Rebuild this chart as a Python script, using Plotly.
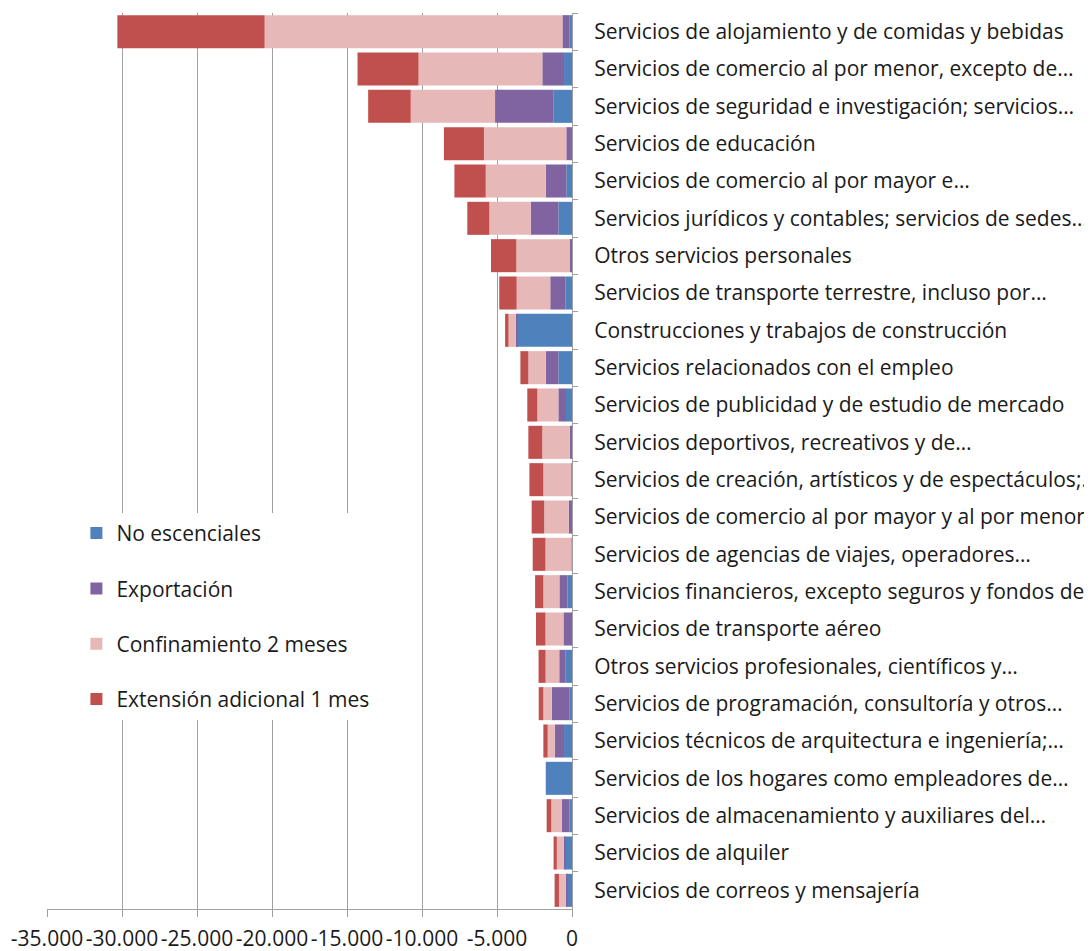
"""Stacked horizontal bars: estimated job losses by service sector."""

import plotly.graph_objects as go

sectores = [
    "Servicios de alojamiento y de comidas y bebidas",
    "Servicios de comercio al por menor, excepto de…",
    "Servicios de seguridad e investigación; servicios…",
    "Servicios de educación",
    "Servicios de comercio al por mayor e…",
    "Servicios jurídicos y contables; servicios de sedes…",
    "Otros servicios personales",
    "Servicios de transporte terrestre, incluso por…",
    "Construcciones y trabajos de construcción",
    "Servicios relacionados con el empleo",
    "Servicios de publicidad y de estudio de mercado",
    "Servicios deportivos, recreativos y de…",
    "Servicios de creación, artísticos y de espectáculos;…",
    "Servicios de comercio al por mayor y al por menor…",
    "Servicios de agencias de viajes, operadores…",
    "Servicios financieros, excepto seguros y fondos de…",
    "Servicios de transporte aéreo",
    "Otros servicios profesionales, científicos y…",
    "Servicios de programación, consultoría y otros…",
    "Servicios técnicos de arquitectura e ingeniería;…",
    "Servicios de los hogares como empleadores de…",
    "Servicios de almacenamiento y auxiliares del…",
    "Servicios de alquiler",
    "Servicios de correos y mensajería",
]

no_esenciales = [-150, -530, -1220, -50, -380, -910, -30, -420, -3650, -910, -400, -20,
                 0, -20, 0, -310, -20, -450, -150, -530, -1750, -180, -450, -310]
exportacion = [-490, -1450, -3910, -330, -1370, -1840, -130, -1030, -90, -840, -510, -130,
               -40, -200, -20, -530, -550, -400, -1200, -620, 0, -510, -110, -110]
confinamiento = [-19850, -8250, -5620, -5490, -4000, -2760, -3550, -2240, -490, -1160, -1400, -1830,
                 -1870, -1630, -1750, -1070, -1200, -910, -560, -470, 0, -690, -450, -450]
extension = [-9820, -4070, -2840, -2670, -2090, -1470, -1690, -1160, -230, -530, -670, -930,
             -930, -840, -850, -550, -630, -470, -310, -290, 0, -310, -220, -290]

tick_vals = [-35000, -30000, -25000, -20000, -15000, -10000, -5000, 0]
tick_text = ["-35.000", "-30.000", "-25.000", "-20.000", "-15.000", "-10.000", "-5.000", "0"]

series = [
    ("No escenciales", no_esenciales, "#4F81BD"),
    ("Exportación", exportacion, "#8064A2"),
    ("Confinamiento 2 meses", confinamiento, "#E6B9B8"),
    ("Extensión adicional 1 mes", extension, "#C0504D"),
]

fig = go.Figure()
for i, (name, vals, color) in enumerate(series):
    fig.add_trace(
        go.Bar(
            y=sectores, x=vals, orientation="h", name=name,
            marker=dict(color=color, line=dict(width=0)),
            legendgroup=str(i),
        )
    )

font_name = "'Open Sans', Lato, sans-serif"
text_color = "#1a1a1a"
axis_gray = "#a0a0a0"

# the page adds an 8px body margin, so margins are set 8px short on top/left
fig.update_layout(
    width=1092, height=951,
    barmode="relative",
    bargap=0.115,
    paper_bgcolor="white",
    plot_bgcolor="white",
    margin=dict(l=39, r=528, t=5, b=50, autoexpand=False),
    font=dict(family=font_name, size=21, color=text_color),
    showlegend=True,
    legend=dict(
        x=0.056, y=0.442, xanchor="left", yanchor="top",
        bgcolor="white", traceorder="grouped", tracegroupgap=25,
        font=dict(size=21, color=text_color),
        itemwidth=30,
    ),
    xaxis=dict(
        range=[-35000, 0], tickvals=tick_vals, ticktext=tick_text,
        tickangle=0,
        showgrid=True, gridcolor=axis_gray, gridwidth=1,
        zeroline=False,
        showline=True, linecolor=axis_gray, linewidth=1,
        ticks="outside", ticklen=7, tickcolor=axis_gray,
        ticklabelstandoff=4,
        tickfont=dict(size=21, color=text_color),
    ),
    yaxis=dict(
        autorange="reversed", side="right",
        showline=True, linecolor=axis_gray, linewidth=1,
        ticks="outside", ticklen=5, tickcolor=axis_gray,
        tickson="boundaries", automargin=False,
        ticklabelstandoff=17,
        tickfont=dict(size=21, color=text_color),
        showgrid=False,
    ),
)

fig.write_html("out.html")
